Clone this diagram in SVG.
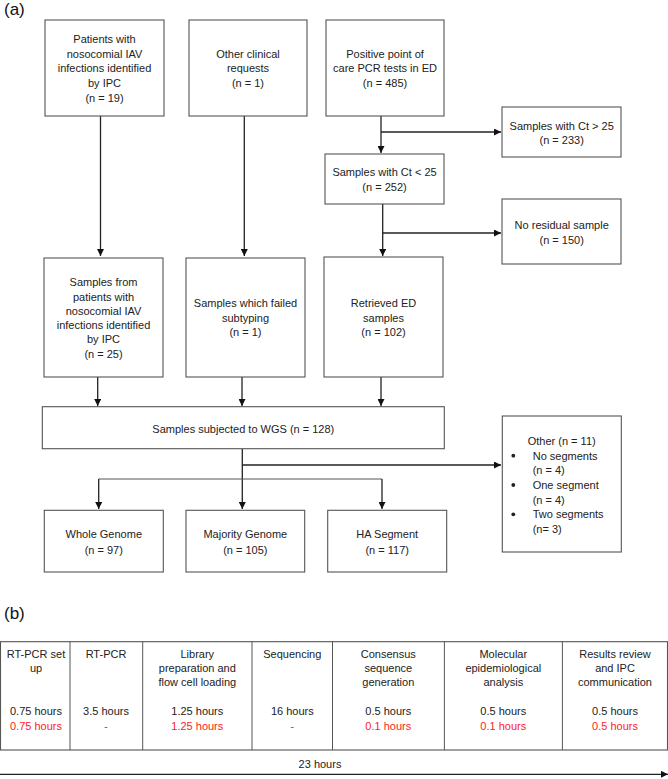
<svg xmlns="http://www.w3.org/2000/svg" width="668" height="779" viewBox="0 0 668 779">
<style>
text{font-family:"Liberation Sans",Arial,sans-serif;font-size:11px;fill:#222}
.c{text-anchor:middle}
.lbl{font-size:17px;fill:#111}
.red{fill:#ff1a1a}
.box{fill:#fff;stroke:#555;stroke-width:1.1}
.ln{fill:none;stroke:#222;stroke-width:1.3}
.thin{fill:none;stroke:#555;stroke-width:1}
</style>
<defs>
<marker id="ah" viewBox="0 0 10 10" refX="10" refY="5" markerWidth="7" markerHeight="7" markerUnits="userSpaceOnUse" orient="auto">
<path d="M0,0 L10,5 L0,10 z" fill="#111"/>
</marker>
</defs>
<rect width="668" height="779" fill="#fff"/>
<text class="lbl" x="4" y="15">(a)</text>

<g id="connectors">
<path class="ln" d="M100.5,116 V256" marker-end="url(#ah)"/>
<path class="ln" d="M244.3,116 V256" marker-end="url(#ah)"/>
<path class="ln" d="M381,116 V153" marker-end="url(#ah)"/>
<path class="ln" d="M381,132 H501" marker-end="url(#ah)"/>
<path class="ln" d="M382.7,204 V256" marker-end="url(#ah)"/>
<path class="ln" d="M382.7,233 H501" marker-end="url(#ah)"/>
<path class="ln" d="M97.7,377 V406" marker-end="url(#ah)"/>
<path class="ln" d="M242,377 V406" marker-end="url(#ah)"/>
<path class="ln" d="M381,377 V406" marker-end="url(#ah)"/>
<path class="ln" d="M242.3,449 V509" marker-end="url(#ah)"/>
<path class="ln" d="M242.3,465 H501" marker-end="url(#ah)"/>
<path class="thin" d="M98.7,479 H382"/>
<path class="ln" d="M98.7,479 V509" marker-end="url(#ah)"/>
<path class="ln" d="M382,479 V509" marker-end="url(#ah)"/>
</g>

<g id="n1"><rect class="box" x="45" y="20" width="119" height="96"/>
<text class="c" x="104.5" y="43">Patients with</text>
<text class="c" x="104.5" y="57.5">nosocomial IAV</text>
<text class="c" x="104.5" y="72.3">infections identified</text>
<text class="c" x="104.5" y="87">by IPC</text>
<text class="c" x="104.5" y="101.7">(n = 19)</text></g>

<g id="n2"><rect class="box" x="189" y="20" width="118" height="96"/>
<text class="c" x="248" y="57.5">Other clinical</text>
<text class="c" x="248" y="72.3">requests</text>
<text class="c" x="248" y="86.7">(n = 1)</text></g>

<g id="n3"><rect class="box" x="326" y="20" width="118" height="96"/>
<text class="c" x="385" y="57.5">Positive point of</text>
<text class="c" x="385" y="72.3">care PCR tests in ED</text>
<text class="c" x="385" y="86.7">(n = 485)</text></g>

<g id="n4"><rect class="box" x="502" y="107" width="119" height="50"/>
<text class="c" x="561.7" y="129.7">Samples with Ct &gt; 25</text>
<text class="c" x="561.7" y="144.3">(n = 233)</text></g>

<g id="n5"><rect class="box" x="325" y="154" width="119" height="50"/>
<text class="c" x="384.5" y="176.3">Samples with Ct &lt; 25</text>
<text class="c" x="384.5" y="191">(n = 252)</text></g>

<g id="n6"><rect class="box" x="502" y="199" width="119" height="65"/>
<text class="c" x="561.7" y="229.3">No residual sample</text>
<text class="c" x="561.7" y="243.7">(n = 150)</text></g>

<g id="n7"><rect class="box" x="44" y="258" width="119" height="119"/>
<text class="c" x="103.5" y="286.3">Samples from</text>
<text class="c" x="103.5" y="300.7">patients with</text>
<text class="c" x="103.5" y="314.7">nosocomial IAV</text>
<text class="c" x="103.5" y="329.3">infections identified</text>
<text class="c" x="103.5" y="343.3">by IPC</text>
<text class="c" x="103.5" y="358.3">(n = 25)</text></g>

<g id="n8"><rect class="box" x="186" y="258" width="119" height="119"/>
<text class="c" x="245.5" y="307.3">Samples which failed</text>
<text class="c" x="245.5" y="321.7">subtyping</text>
<text class="c" x="245.5" y="336">(n = 1)</text></g>

<g id="n9"><rect class="box" x="324" y="257" width="119" height="120"/>
<text class="c" x="383.5" y="307.3">Retrieved ED</text>
<text class="c" x="383.5" y="321.7">samples</text>
<text class="c" x="383.5" y="336">(n = 102)</text></g>

<g id="n10"><rect class="box" x="42.3" y="406.7" width="402" height="42"/>
<text class="c" x="243.3" y="432.7">Samples subjected to WGS (n = 128)</text></g>

<g id="n11"><rect class="box" x="502.3" y="416" width="119" height="136"/>
<text class="c" x="561.7" y="444.7">Other (n = 11)</text>
<circle cx="513.3" cy="455.7" r="1.9" fill="#222"/>
<circle cx="513.3" cy="485" r="1.9" fill="#222"/>
<circle cx="513.3" cy="514.3" r="1.9" fill="#222"/>
<text x="532.7" y="459.7">No segments</text>
<text x="532.7" y="474.3">(n = 4)</text>
<text x="532.7" y="489">One segment</text>
<text x="532.7" y="503.7">(n = 4)</text>
<text x="532.7" y="518.3">Two segments</text>
<text x="532.7" y="533">(n= 3)</text></g>

<g id="n12"><rect class="box" x="44.3" y="510.3" width="119" height="61.7"/>
<text class="c" x="103.8" y="538.3">Whole Genome</text>
<text class="c" x="103.8" y="553.7">(n = 97)</text></g>

<g id="n13"><rect class="box" x="186" y="510.3" width="118.7" height="61.7"/>
<text class="c" x="245.3" y="538.3">Majority Genome</text>
<text class="c" x="245.3" y="553.7">(n = 105)</text></g>

<g id="n14"><rect class="box" x="327.7" y="510.3" width="119" height="61.7"/>
<text class="c" x="387.2" y="538.3">HA Segment</text>
<text class="c" x="387.2" y="553.7">(n = 117)</text></g>

<text class="lbl" x="4" y="619">(b)</text>

<g id="timeline">
<rect class="box" x="0.5" y="641.7" width="667" height="108.3"/>
<path class="thin" d="M70,641.7 V750 M142.7,641.7 V750 M252,641.7 V750 M332.5,641.7 V750 M444.4,641.7 V750 M562.4,641.7 V750"/>
<g id="c1">
<text class="c" x="36" y="657.5">RT-PCR set</text>
<text class="c" x="36" y="672">up</text>
<text class="c" x="36" y="715">0.75 hours</text>
<text class="c red" x="36" y="730">0.75 hours</text></g>
<g id="c2">
<text class="c" x="106" y="657.5">RT-PCR</text>
<text class="c" x="106" y="715">3.5 hours</text>
<text class="c red" x="106" y="730">-</text></g>
<g id="c3">
<text class="c" x="197.3" y="657.5">Library</text>
<text class="c" x="197.3" y="672">preparation and</text>
<text class="c" x="197.3" y="686">flow cell loading</text>
<text class="c" x="197.3" y="715">1.25 hours</text>
<text class="c red" x="197.3" y="730">1.25 hours</text></g>
<g id="c4">
<text class="c" x="292.3" y="657.5">Sequencing</text>
<text class="c" x="292.3" y="715">16 hours</text>
<text class="c red" x="292.3" y="730">-</text></g>
<g id="c5">
<text class="c" x="388.3" y="657.5">Consensus</text>
<text class="c" x="388.3" y="672">sequence</text>
<text class="c" x="388.3" y="686">generation</text>
<text class="c" x="388.3" y="715">0.5 hours</text>
<text class="c red" x="388.3" y="730">0.1 hours</text></g>
<g id="c6">
<text class="c" x="503.3" y="657.5">Molecular</text>
<text class="c" x="503.3" y="672">epidemiological</text>
<text class="c" x="503.3" y="686">analysis</text>
<text class="c" x="503.3" y="715">0.5 hours</text>
<text class="c red" x="503.3" y="730">0.1 hours</text></g>
<g id="c7">
<text class="c" x="615" y="657.5">Results review</text>
<text class="c" x="615" y="672">and IPC</text>
<text class="c" x="615" y="686">communication</text>
<text class="c" x="615" y="715">0.5 hours</text>
<text class="c red" x="615" y="730">0.5 hours</text></g>
<text class="c" x="320" y="767.5">23 hours</text>
<path class="ln" d="M0,774.3 H668" marker-end="url(#ah)"/>
</g>
</svg>
